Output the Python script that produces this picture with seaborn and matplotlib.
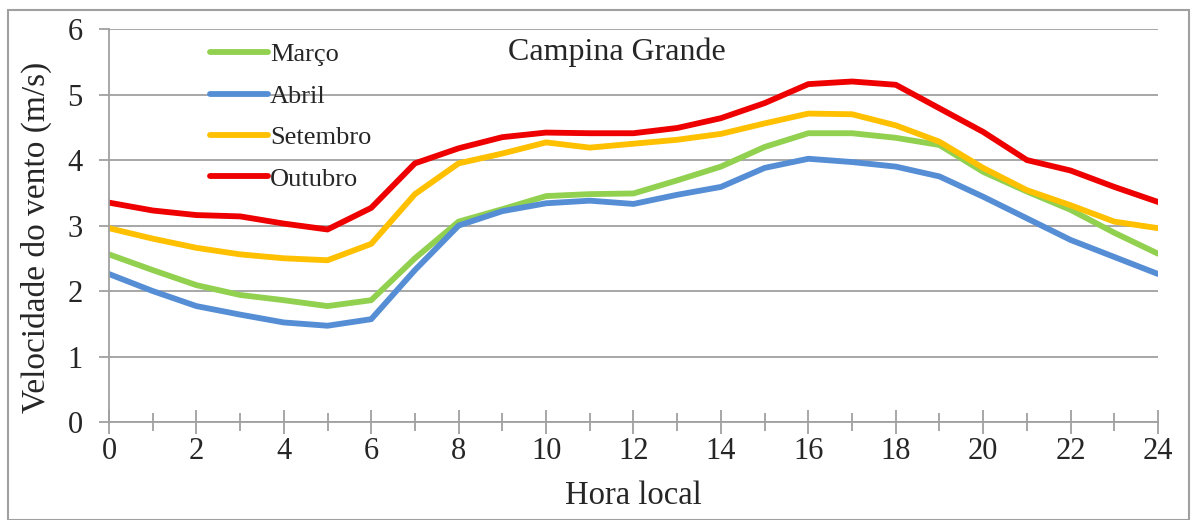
import numpy as np
import pandas as pd
import matplotlib
matplotlib.use("Agg")
import matplotlib.pyplot as plt
import seaborn as sns
from matplotlib.patches import Rectangle
from matplotlib.ticker import MultipleLocator

# hourly data (local time 0..24)
horas = list(range(25))
marco = [2.56, 2.32, 2.09, 1.94, 1.86, 1.77, 1.86, 2.50, 3.06, 3.25, 3.45, 3.48, 3.49,
         3.69, 3.90, 4.20, 4.41, 4.41, 4.34, 4.23, 3.82, 3.52, 3.24, 2.89, 2.57]
abril = [2.26, 2.00, 1.77, 1.64, 1.52, 1.47, 1.57, 2.32, 3.00, 3.22, 3.34, 3.38, 3.33,
         3.47, 3.59, 3.88, 4.02, 3.97, 3.90, 3.75, 3.44, 3.11, 2.78, 2.52, 2.26]
setembro = [2.96, 2.80, 2.66, 2.56, 2.50, 2.47, 2.72, 3.48, 3.95, 4.10, 4.27, 4.19, 4.25,
            4.31, 4.40, 4.56, 4.71, 4.70, 4.53, 4.28, 3.88, 3.54, 3.31, 3.06, 2.96]
outubro = [3.35, 3.23, 3.16, 3.14, 3.03, 2.94, 3.27, 3.95, 4.18, 4.35, 4.42, 4.41, 4.41,
           4.49, 4.64, 4.87, 5.16, 5.20, 5.15, 4.79, 4.43, 4.00, 3.84, 3.59, 3.36]

meses = ["Março", "Abril", "Setembro", "Outubro"]
cores = ["#92D050", "#558ED5", "#FFC000", "#EE0000"]

df = pd.DataFrame({"Hora": horas * 4,
                   "Velocidade": marco + abril + setembro + outubro,
                   "Mes": [m for m in meses for _ in horas]})

sns.set_style("white")
plt.rcParams["font.family"] = ["Liberation Serif", "DejaVu Serif"]

fig = plt.figure(figsize=(11.92, 5.2), dpi=100)
ax = fig.add_axes([0.0914, 0.1885, 0.8801, 0.7555])

sns.lineplot(data=df, x="Hora", y="Velocidade", hue="Mes", hue_order=meses,
             palette=cores, linewidth=4.2, ax=ax, legend=True)

ax.set_xlim(0, 24)
ax.set_ylim(0, 6)
ax.xaxis.set_major_locator(MultipleLocator(2))
ax.xaxis.set_minor_locator(MultipleLocator(1))
ax.yaxis.set_major_locator(MultipleLocator(1))
ax.grid(axis="y", color="#a0a0a0", linewidth=1.3)
ax.set_axisbelow(True)
for s in ["top", "right"]:
    ax.spines[s].set_visible(False)
for s in ["left", "bottom"]:
    ax.spines[s].set_color("#a0a0a0")
    ax.spines[s].set_linewidth(1.3)
ax.tick_params(axis="x", which="major", bottom=True, direction="inout", length=17,
               width=1.3, color="#a0a0a0", labelsize=22, pad=2)
ax.tick_params(axis="x", which="minor", bottom=True, direction="inout", length=13,
               width=1.3, color="#a0a0a0")
ax.tick_params(axis="y", which="major", left=True, direction="out", length=7, width=1.3,
               color="#a0a0a0", labelsize=22, pad=12)
ax.set_xlabel("Hora local", fontsize=23.5, labelpad=11)
ax.set_ylabel("Velocidade do vento (m/s)", fontsize=24, labelpad=11)
ax.yaxis.label.set_y(0.47)

ax.text(0.484, 0.941, "Campina Grande", transform=ax.transAxes, ha="center", va="center",
        fontsize=23)

leg = ax.legend(loc="upper left", bbox_to_anchor=(0.096, 0.965), frameon=False,
                fontsize=19, handlelength=2.2, handletextpad=0.08, labelspacing=0.68,
                borderaxespad=0, borderpad=0)

fig.patches.append(Rectangle((0.0065, 0.0), 0.991, 0.98, transform=fig.transFigure,
                             fill=False, edgecolor="#a0a0a0", linewidth=1.5))

fig.savefig("out.png", dpi=100)
